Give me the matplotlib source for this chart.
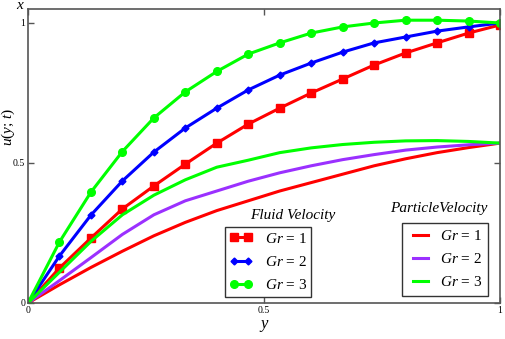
import numpy as np
import matplotlib
matplotlib.use('Agg')
import matplotlib.pyplot as plt

plt.rcParams['font.family'] = 'Liberation Serif'
plt.rcParams['mathtext.fontset'] = 'custom'
plt.rcParams['mathtext.rm'] = 'Liberation Serif'
plt.rcParams['mathtext.it'] = 'Liberation Serif:italic'

# puntos en y = k/15
y = np.arange(16) / 15

# velocidad del fluido
fluido_gr1 = [0, 0.125, 0.232, 0.336, 0.418, 0.496, 0.571, 0.639, 0.696, 0.75,
              0.80, 0.85, 0.893, 0.929, 0.964, 0.993]
fluido_gr2 = [0, 0.168, 0.314, 0.436, 0.539, 0.625, 0.696, 0.761, 0.814, 0.857,
              0.896, 0.929, 0.95, 0.971, 0.986, 1.0]
fluido_gr3 = [0, 0.218, 0.396, 0.541, 0.661, 0.754, 0.827, 0.889, 0.929, 0.964,
              0.986, 1.0, 1.01, 1.01, 1.007, 1.0]

# velocidad de la particula
particula_gr1 = [0, 0.065, 0.127, 0.185, 0.24, 0.288, 0.33, 0.365, 0.40, 0.43,
                 0.46, 0.49, 0.515, 0.537, 0.555, 0.571]
particula_gr2 = [0, 0.08, 0.162, 0.245, 0.315, 0.365, 0.40, 0.435, 0.465, 0.49,
                 0.512, 0.53, 0.546, 0.557, 0.565, 0.571]
particula_gr3 = [0, 0.11, 0.22, 0.315, 0.385, 0.44, 0.485, 0.51, 0.537, 0.554,
                 0.566, 0.574, 0.579, 0.58, 0.577, 0.571]

etiquetas = [r'$Gr$ = 1', r'$Gr$ = 2', r'$Gr$ = 3']

fig = plt.figure(figsize=(5.05, 3.39), dpi=100)
ax = fig.add_axes([28/505, 1 - 303/339, 472/505, 294/339])

# curvas de fluido (con marcadores)
l1, = ax.plot(y, fluido_gr1, color='#ff0000', lw=2.2, marker='s', markersize=5.5)
l2, = ax.plot(y, fluido_gr2, color='#0000ff', lw=2.2, marker='D', markersize=3.5)
l3, = ax.plot(y, fluido_gr3, color='#00ff00', lw=2.2, marker='o', markersize=5.5)

# curvas de particula
p1, = ax.plot(y, particula_gr1, color='#ff0000', lw=2.2)
p2, = ax.plot(y, particula_gr2, color='#9b30ff', lw=2.2)
p3, = ax.plot(y, particula_gr3, color='#00ff00', lw=2.2)

ax.set_xlim(0, 1)
ax.set_ylim(0, 1.05)
ax.set_xticks([0, 0.5, 1])
ax.set_xticklabels(['0', '0.5', '1'])
ax.set_yticks([0, 0.5, 1])
ax.set_yticklabels(['0', '0.5', '1'])
ax.tick_params(direction='in', length=4, width=1, labelsize=7, pad=2,
               top=True, right=True, color='#555555')
for s in ax.spines.values():
    s.set_color('#555555')
    s.set_linewidth(1.2)

ax.set_xlabel(r'$y$', fontsize=12, labelpad=2)
ax.set_ylabel(r'$u(y;\,t)$', fontsize=11, va='center')
ax.yaxis.set_label_coords(-0.042, 0.6)
ax.text(-0.017, 1.0136, r'$x$', transform=ax.transAxes, fontsize=11,
        ha='center', va='center')

estilo = dict(fancybox=False, edgecolor='#333333', framealpha=1, fontsize=11,
              borderaxespad=0, bbox_transform=ax.transAxes, loc='upper left',
              numpoints=2)

leg1 = ax.legend([l1, l2, l3], etiquetas, bbox_to_anchor=(0.417, 0.258),
                 handlelength=1.5, handletextpad=0.8, labelspacing=0.6,
                 borderpad=0.3, **estilo)
leg1.get_frame().set_linewidth(1.0)
ax.add_artist(leg1)

leg2 = ax.legend([p1, p2, p3], etiquetas, bbox_to_anchor=(0.792, 0.272),
                 handlelength=1.6, handletextpad=0.5, labelspacing=0.6,
                 borderpad=0.4, **estilo)
leg2.get_frame().set_linewidth(1.0)

ax.text(0.561, 0.296, 'Fluid Velocity', transform=ax.transAxes, fontsize=11,
        style='italic', ha='center', va='center')
ax.text(0.871, 0.32, 'ParticleVelocity', transform=ax.transAxes, fontsize=11,
        style='italic', ha='center', va='center')

plt.savefig('out.png', dpi=100)
